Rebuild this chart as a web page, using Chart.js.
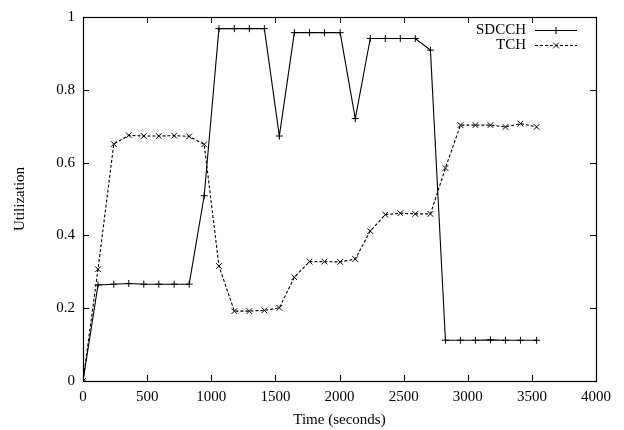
<!DOCTYPE html>
<html lang="en">
<head>
  <meta charset="UTF-8">
  <title>SDCCH / TCH utilization</title>
  <script src="https://cdn.jsdelivr.net/npm/chart.js"></script>
  <style>
    html, body { margin: 0; padding: 0; background: #fff; }
    #wrap { width: 624px; height: 430px; }
  </style>
</head>
<body>
  <div id="wrap"><canvas id="chart" width="624" height="430"></canvas></div>
  <script>
    // sample times (seconds)
    const times = [0, 117, 240, 357, 474, 591, 711, 828, 945, 1060, 1180, 1297, 1414, 1531, 1648, 1766,
                   1883, 2005, 2123, 2240, 2357, 2474, 2591, 2709, 2826, 2943, 3060, 3177, 3294, 3411, 3537];
    const sdcch = [0, 0.264, 0.266, 0.268, 0.266, 0.266, 0.266, 0.266, 0.509, 0.968, 0.968, 0.968, 0.968, 0.673,
                   0.957, 0.957, 0.957, 0.957, 0.721, 0.941, 0.941, 0.941, 0.941, 0.909, 0.112, 0.112, 0.112,
                   0.113, 0.112, 0.112, 0.112];
    const tch = [0, 0.307, 0.651, 0.675, 0.673, 0.673, 0.674, 0.672, 0.650, 0.316, 0.192, 0.192, 0.194, 0.201,
                 0.285, 0.328, 0.328, 0.327, 0.335, 0.412, 0.457, 0.461, 0.459, 0.459, 0.585, 0.703, 0.703,
                 0.703, 0.698, 0.707, 0.698];
    const seriesNames = ['SDCCH', 'TCH'];
    const xTicks = [0, 500, 1000, 1500, 2000, 2500, 3000, 3500, 4000];
    const yTicks = [0, 0.2, 0.4, 0.6, 0.8, 1];

    const FONT = 'Liberation Serif, Times New Roman, serif';

    // gnuplot-like frame: border plus inward ticks on all four sides, and the key
    const framePlugin = {
      id: 'frame',
      afterDraw(chart) {
        const ctx = chart.ctx;
        const a = chart.chartArea;
        const xs = chart.scales.x, ys = chart.scales.y;
        const tl = 6;
        ctx.save();
        ctx.strokeStyle = '#000';
        ctx.lineWidth = 1.2;
        ctx.setLineDash([]);
        ctx.strokeRect(a.left + 0.5, a.top + 0.5, a.right - a.left, a.bottom - a.top);
        ctx.lineWidth = 1;
        ctx.beginPath();
        xTicks.forEach(v => {
          const px = Math.round(xs.getPixelForValue(v)) + 0.5;
          ctx.moveTo(px, a.bottom); ctx.lineTo(px, a.bottom - tl);
          ctx.moveTo(px, a.top); ctx.lineTo(px, a.top + tl);
        });
        yTicks.forEach(v => {
          const py = Math.round(ys.getPixelForValue(v)) + 0.5;
          ctx.moveTo(a.left, py); ctx.lineTo(a.left + tl, py);
          ctx.moveTo(a.right, py); ctx.lineTo(a.right - tl, py);
        });
        ctx.stroke();

        // key, top right
        ctx.font = '15px ' + FONT;
        ctx.fillStyle = '#000';
        ctx.textAlign = 'right';
        ctx.textBaseline = 'middle';
        const textX = a.right - 70, x0 = a.right - 61, x1 = a.right - 19;
        chart.data.datasets.forEach((ds, i) => {
          const y = a.top + 13 + i * 15 + 0.5;
          ctx.fillText(ds.label, textX, y);
          ctx.setLineDash(ds.borderDash || []);
          ctx.beginPath();
          ctx.moveTo(x0, y); ctx.lineTo(x1, y);
          ctx.stroke();
          ctx.setLineDash([]);
          const m = (x0 + x1) / 2, r = ds.pointRadius;
          ctx.beginPath();
          if (ds.pointStyle === 'cross') {
            ctx.moveTo(m - r, y); ctx.lineTo(m + r, y);
            ctx.moveTo(m, y - r); ctx.lineTo(m, y + r);
          } else {
            const d = r * Math.SQRT1_2;
            ctx.moveTo(m - d, y - d); ctx.lineTo(m + d, y + d);
            ctx.moveTo(m - d, y + d); ctx.lineTo(m + d, y - d);
          }
          ctx.stroke();
        });
        ctx.restore();
      }
    };

    const toPoints = vals => times.map((t, i) => ({ x: t, y: vals[i] }));

    new Chart(document.getElementById('chart'), {
      type: 'line',
      data: {
        datasets: [
          {
            label: seriesNames[0],
            data: toPoints(sdcch),
            borderColor: '#000',
            borderWidth: 1.1,
            pointStyle: 'cross',
            pointRadius: 3.5,
            pointBorderColor: '#000',
            pointBorderWidth: 1,
            tension: 0
          },
          {
            label: seriesNames[1],
            data: toPoints(tch),
            borderColor: '#000',
            borderWidth: 1.1,
            borderDash: [3, 2],
            pointStyle: 'crossRot',
            pointRadius: 4,
            pointBorderColor: '#000',
            pointBorderWidth: 1,
            tension: 0
          }
        ]
      },
      options: {
        responsive: false,
        animation: false,
        layout: { padding: { top: 14, right: 28, left: 0, bottom: 0 } },
        plugins: { legend: { display: false }, tooltip: { enabled: false } },
        scales: {
          x: {
            type: 'linear',
            min: 0, max: 4000,
            afterBuildTicks: s => { s.ticks = xTicks.map(v => ({ value: v })); },
            afterFit: s => { s.height = 49; },
            grid: { display: false, drawTicks: false },
            border: { display: false },
            ticks: { color: '#000', padding: 7, maxRotation: 0, font: { family: FONT, size: 15 },
                     callback: v => String(v) },
            title: { display: true, text: 'Time (seconds)', color: '#000', padding: { top: 1, bottom: 1 },
                     font: { family: FONT, size: 15 } }
          },
          y: {
            type: 'linear',
            min: 0, max: 1,
            afterBuildTicks: s => { s.ticks = yTicks.map(v => ({ value: v })); },
            afterFit: s => { s.width = 83; },
            grid: { display: false, drawTicks: false },
            border: { display: false },
            ticks: { color: '#000', padding: 8, font: { family: FONT, size: 15 },
                     callback: v => String(Math.round(v * 10) / 10) },
            title: { display: true, text: 'Utilization', color: '#000', padding: { top: 11, bottom: 11 },
                     font: { family: FONT, size: 15 } }
          }
        }
      },
      plugins: [framePlugin]
    });
  </script>
</body>
</html>
